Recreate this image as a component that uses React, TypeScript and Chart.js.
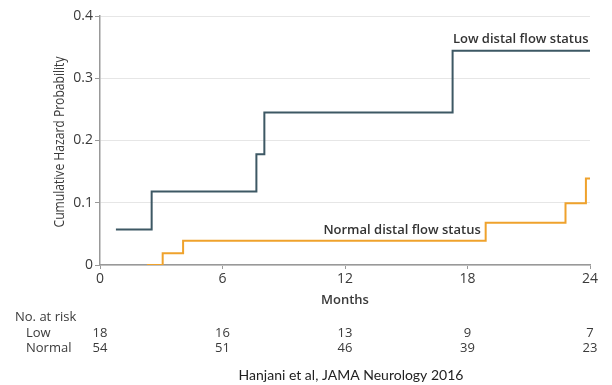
import React, { useEffect, useRef } from "react";
import { Chart, registerables } from "chart.js";

Chart.register(...registerables);

const lowMonths = [0.78, 2.53, 7.66, 8.05, 17.27, 24];
const lowHazard = [0.057, 0.118, 0.178, 0.245, 0.344, 0.344];
const normalMonths = [2.3, 3.07, 4.07, 18.89, 22.8, 23.8, 24];
const normalHazard = [0, 0.019, 0.039, 0.068, 0.099, 0.139, 0.139];

const riskMonths = [0, 6, 12, 18, 24];
const riskLow = [18, 16, 13, 9, 7];
const riskNormal = [54, 51, 46, 39, 23];

const lowLabel = "Low distal flow status";
const normalLabel = "Normal distal flow status";
const xTitle = "Months";
const yTitle = "Cumulative Hazard Probability";
const citation = "Hanjani et al, JAMA Neurology 2016";

const LOW_COLOR = "#3d5864";
const NORMAL_COLOR = "#efa22c";
const TEXT = "#3a3a3a";
const FONT = "'Open Sans', sans-serif";

const overlay = {
  id: "overlay",
  afterDraw(chart: any) {
    const ctx = chart.ctx;
    const xs = chart.scales.x;
    const ys = chart.scales.y;
    ctx.save();
    // series labels
    ctx.fillStyle = "#333";
    ctx.font = `600 13px ${FONT}`;
    ctx.textAlign = "right";
    ctx.textBaseline = "middle";
    ctx.fillText(lowLabel, xs.getPixelForValue(23.93), ys.getPixelForValue(0.3625));
    ctx.fillText(normalLabel, xs.getPixelForValue(18.65), ys.getPixelForValue(0.055));
    // y title (condensed)
    ctx.save();
    ctx.translate(60, 142);
    ctx.rotate(-Math.PI / 2);
    ctx.font = `15px ${FONT}`;
    const w = ctx.measureText(yTitle).width;
    ctx.scale(171 / w, 1);
    ctx.textAlign = "center";
    ctx.fillStyle = TEXT;
    ctx.fillText(yTitle, 0, 0);
    ctx.restore();
    // x title
    ctx.font = `600 13px ${FONT}`;
    ctx.textAlign = "center";
    ctx.fillStyle = TEXT;
    ctx.fillText(xTitle, xs.getPixelForValue(12), 300);
    // risk table
    ctx.font = `13px ${FONT}`;
    ctx.textAlign = "left";
    ctx.fillText("No. at risk", 15, 317);
    ctx.fillText("Low", 26, 333);
    ctx.fillText("Normal", 26, 348);
    ctx.textAlign = "center";
    riskMonths.forEach((m, i) => {
      const px = xs.getPixelForValue(m);
      ctx.fillText(String(riskLow[i]), px, 333);
      ctx.fillText(String(riskNormal[i]), px, 348);
    });
    // citation
    ctx.font = `14px Lato, sans-serif`;
    ctx.fillStyle = "#222";
    ctx.fillText(citation, 351, 375);
    ctx.restore();
  },
};

export default function App() {
  const ref = useRef<HTMLCanvasElement>(null);
  useEffect(() => {
    const chart = new Chart(ref.current!, {
      type: "line",
      data: {
        datasets: [
          {
            data: lowMonths.map((m, i) => ({ x: m, y: lowHazard[i] })),
            borderColor: LOW_COLOR,
            borderWidth: 2,
            pointRadius: 0,
            stepped: "before",
            fill: false,
          },
          {
            data: normalMonths.map((m, i) => ({ x: m, y: normalHazard[i] })),
            borderColor: NORMAL_COLOR,
            borderWidth: 2,
            pointRadius: 0,
            stepped: "before",
            fill: false,
          },
        ],
      },
      options: {
        responsive: false,
        animation: false,
        layout: { padding: { left: 0, right: 22, top: 16, bottom: 0 } },
        plugins: { legend: { display: false }, tooltip: { enabled: false } },
        scales: {
          x: {
            type: "linear",
            min: 0,
            max: 24,
            afterFit(s: any) {
              s.height = 120;
            },
            grid: {
              drawOnChartArea: false,
              drawTicks: true,
              tickLength: 4,
              tickColor: "#999",
            },
            border: { color: "#999", width: 1.5 },
            ticks: {
              stepSize: 6,
              color: TEXT,
              font: { family: FONT, size: 14 },
              padding: 2,
              maxRotation: 0,
            },
          },
          y: {
            min: 0,
            max: 0.4,
            afterFit(s: any) {
              s.width = 100;
            },
            grid: {
              color: "#e6e6e6",
              tickColor: "#999",
              tickLength: 5,
            },
            border: { color: "#999", width: 1.5 },
            ticks: {
              stepSize: 0.1,
              color: TEXT,
              font: { family: FONT, size: 14 },
              padding: 2,
              callback: (v: any) => (v === 0 ? "0" : Number(v).toFixed(1)),
            },
          },
        },
      },
      plugins: [overlay],
    });
    return () => chart.destroy();
  }, []);
  return (
    <div style={{ position: "absolute", left: 0, top: 0, width: 612, height: 385, background: "#fff" }}>
      <canvas ref={ref} width={612} height={385} />
    </div>
  );
}
